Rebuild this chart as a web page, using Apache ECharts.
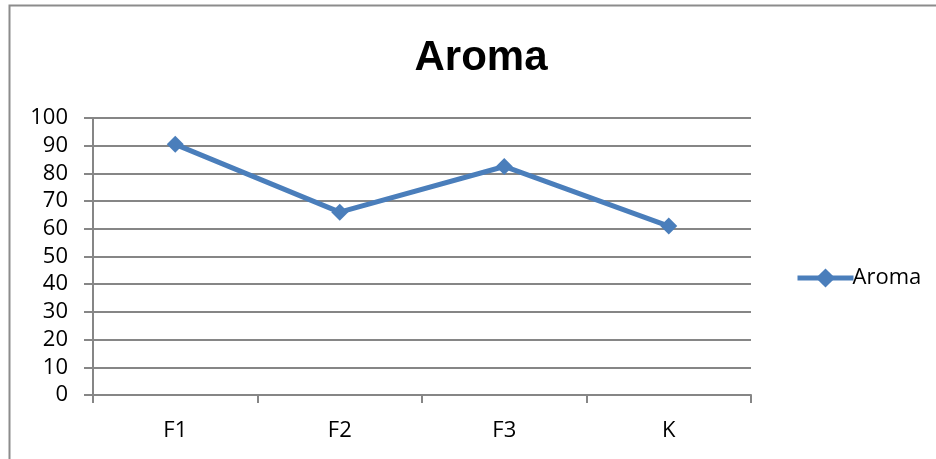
<!DOCTYPE html>
<html>
<head>
<meta charset="utf-8">
<script src="https://cdn.jsdelivr.net/npm/echarts@6/dist/echarts.min.js"></script>
<style>html,body{margin:0;padding:0;background:#fff}#c{width:936px;height:459px}</style>
</head>
<body>
<div id="c"></div>
<script>
const categories = ["F1", "F2", "F3", "K"];
const aromaValues = [90.5, 66, 82.5, 61];
const yTicks = [0, 10, 20, 30, 40, 50, 60, 70, 80, 90, 100];

const chart = echarts.init(document.getElementById('c'), null, {renderer: 'canvas'});
const fontFam = '"Open Sans", "Liberation Sans", sans-serif';
chart.setOption({
  animation: false,
  backgroundColor: '#fff',
  title: {
    text: 'Aroma', left: 476, top: 32, textAlign: 'center',
    textStyle: {fontFamily: '"Liberation Sans", Arial, sans-serif', fontWeight: 'bold', fontSize: 42, color: '#000'}
  },
  legend: {
    left: 790, top: 262, itemWidth: 56, itemHeight: 24, itemGap: 4,
    lineStyle: {width: 5},
    textStyle: {fontFamily: fontFam, fontSize: 22, color: '#000', padding: [0,0,0,-6]},
    data: ['Aroma']
  },
  grid: {left: 93, right: 185, top: 118, bottom: 64, containLabel: false},
  xAxis: {
    type: 'category', data: categories, boundaryGap: true,
    axisLine: {lineStyle: {color: '#868686', width: 2}},
    axisTick: {show: true, length: 8, lineStyle: {color: '#868686', width: 2}},
    axisLabel: {fontFamily: fontFam, fontSize: 22, color: '#000', margin: 25}
  },
  yAxis: {
    type: 'value', min: yTicks[0], max: yTicks[yTicks.length - 1], interval: 10,
    axisLine: {show: true, lineStyle: {color: '#868686', width: 2}},
    axisTick: {show: true, length: 9, lineStyle: {color: '#868686', width: 2}},
    splitLine: {lineStyle: {color: '#868686', width: 2}},
    axisLabel: {fontFamily: fontFam, fontSize: 22, color: '#000', margin: 25}
  },
  series: [{
    name: 'Aroma', type: 'line', data: aromaValues,
    symbol: 'diamond', symbolSize: 17,
    lineStyle: {color: '#4a7ebb', width: 5},
    itemStyle: {color: '#4a7ebb'}
  }],
  graphic: [{
    type: 'rect', shape: {x: 9.5, y: 5.5, width: 1000, height: 1000},
    style: {fill: 'none', stroke: '#8c8c8c', lineWidth: 2}, silent: true, z: 100
  }]
});
</script>
</body>
</html>
